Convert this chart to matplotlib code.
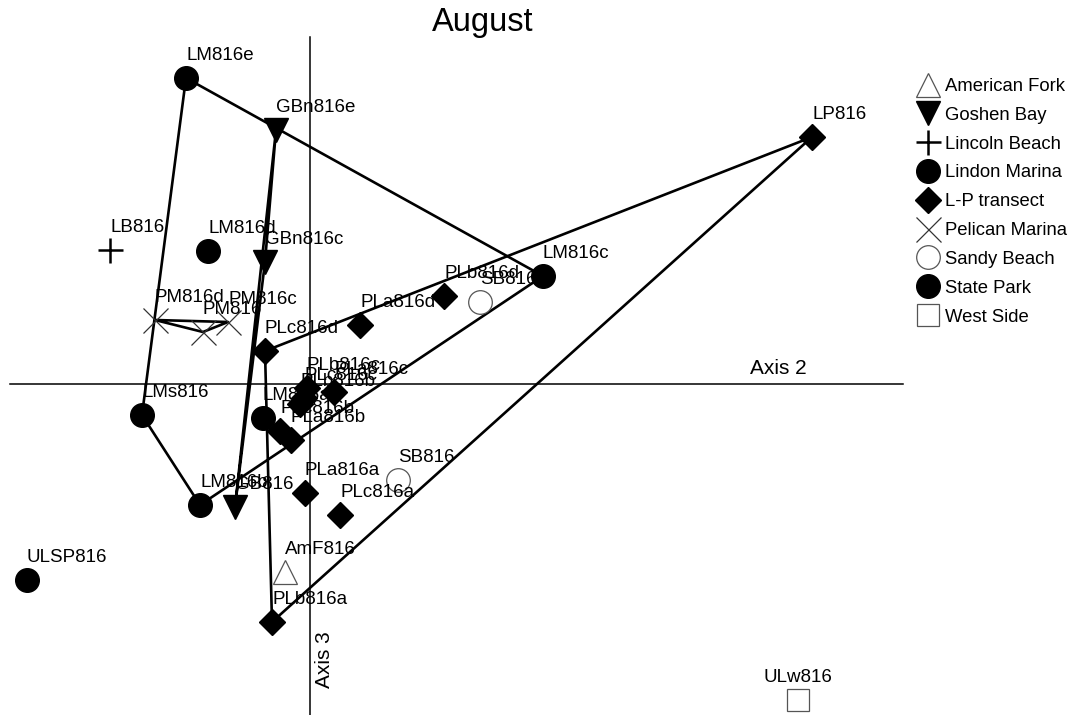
import matplotlib.pyplot as plt
from matplotlib.lines import Line2D

plt.rcParams["font.family"] = ["Liberation Sans", "DejaVu Sans"]

# ordination scores (Axis 2, Axis 3)
amf_x = [-0.25]
amf_y = [-1.88]
amf_lab = ["AmF816"]

gb_x = [-0.34, -0.45, -0.75]
gb_y = [2.54, 1.22, -1.23]
gb_lab = ["GBn816e", "GBn816c", "GB816"]

lb_x = [-2.00]
lb_y = [1.34]
lb_lab = ["LB816"]

lm_x = [-1.24, -1.02, 2.33, -1.68, -1.10, -0.47]
lm_y = [3.06, 1.33, 1.08, -0.31, -1.21, -0.34]
lm_lab = ["LM816e", "LM816d", "LM816c", "LMs816", "LM816b", "LM816a"]

lp_x = [5.02, 1.34, 0.50, -0.45, -0.03, 0.24, -0.06, -0.10, -0.30, -0.19, -0.05, 0.30, -0.38]
lp_y = [2.47, 0.88, 0.59, 0.33, -0.04, -0.08, -0.14, -0.20, -0.47, -0.56, -1.09, -1.31, -2.38]
lp_lab = ["LP816", "PLb816d", "PLa816d", "PLc816d", "PLb816c", "PLa816c", "PLc816c",
          "PLb816b", "PLc816b", "PLa816b", "PLa816a", "PLc816a", "PLb816a"]

pm_x = [-1.55, -0.82, -1.07]
pm_y = [0.64, 0.62, 0.52]
pm_lab = ["PM816d", "PM816c", "PM816"]

sb_x = [1.70, 0.88]
sb_y = [0.82, -0.96]
sb_lab = ["SB816d", "SB816"]

sp_x = [-2.83]
sp_y = [-1.96]
sp_lab = ["ULSP816"]

ws_x = [4.88]
ws_y = [-3.16]
ws_lab = ["ULw816"]


def hull(xs, ys):
    pts = sorted(set(zip(xs, ys)))
    if len(pts) < 3:
        return []

    def cross(o, a, b):
        return (a[0] - o[0]) * (b[1] - o[1]) - (a[1] - o[1]) * (b[0] - o[0])

    lower, upper = [], []
    for p in pts:
        while len(lower) >= 2 and cross(lower[-2], lower[-1], p) <= 0:
            lower.pop()
        lower.append(p)
    for p in reversed(pts):
        while len(upper) >= 2 and cross(upper[-2], upper[-1], p) <= 0:
            upper.pop()
        upper.append(p)
    h = lower[:-1] + upper[:-1]
    return h + [h[0]]


groups = [
    ("American Fork", amf_x, amf_y, amf_lab, dict(marker="^", ms=17, mfc="white", mec="#555555", mew=0.9)),
    ("Goshen Bay", gb_x, gb_y, gb_lab, dict(marker="v", ms=17, mfc="black", mec="black")),
    ("Lincoln Beach", lb_x, lb_y, lb_lab, dict(marker="+", ms=18, mec="black", mew=1.8)),
    ("Lindon Marina", lm_x, lm_y, lm_lab, dict(marker="o", ms=17, mfc="black", mec="black")),
    ("L-P transect", lp_x, lp_y, lp_lab, dict(marker="D", ms=13, mfc="black", mec="black")),
    ("Pelican Marina", pm_x, pm_y, pm_lab, dict(marker="x", ms=18, mec="#333333", mew=0.9)),
    ("Sandy Beach", sb_x, sb_y, sb_lab, dict(marker="o", ms=17, mfc="white", mec="#555555", mew=0.9)),
    ("State Park", sp_x, sp_y, sp_lab, dict(marker="o", ms=17, mfc="black", mec="black")),
    ("West Side", ws_x, ws_y, ws_lab, dict(marker="s", ms=16, mfc="white", mec="#555555", mew=0.9)),
]

fig = plt.figure(figsize=(10.75, 7.15), dpi=100)
ax = fig.add_axes([0, 0, 1, 1])
ax.set_xlim(-3.10, 7.65)
ax.set_ylim(-3.31, 3.84)
ax.axis("off")

# axis lines through the origin
ax.plot([-3.0, 5.93], [0, 0], color="black", lw=1.1, zorder=1)
ax.plot([0, 0], [3.47, -3.4], color="black", lw=1.1, zorder=1)
ax.text(4.68, 0.16, "Axis 2", fontsize=15, ha="center", va="center")
ax.text(0.15, -2.76, "Axis 3", fontsize=15, ha="center", va="center", rotation=90)

handles = []
for name, xs, ys, labs, style in groups:
    h = hull(xs, ys)
    if h:
        hx, hy = zip(*h)
        ax.plot(hx, hy, color="black", lw=1.9, zorder=2)
    ax.plot(xs, ys, ls="none", zorder=3, **style)
    for x, y, lab in zip(xs, ys, labs):
        ha = "center" if lab == "ULw816" else "left"
        ax.annotate(lab, (x, y), xytext=(0, 16), textcoords="offset points",
                    fontsize=13.5, ha=ha, va="center", zorder=4)
    handles.append(Line2D([], [], ls="none", label=name, **style))

fig.legend(handles=handles, loc="upper left", bbox_to_anchor=(919 / 1075, 1 - 78 / 715),
           frameon=False, fontsize=13.3, borderpad=0, handlelength=1.0,
           handletextpad=0.4, labelspacing=0.64, borderaxespad=0)

fig.text(483 / 1075, 1 - 22 / 715, "August", fontsize=23.5, ha="center", va="center")

fig.savefig("out.png", dpi=100)
